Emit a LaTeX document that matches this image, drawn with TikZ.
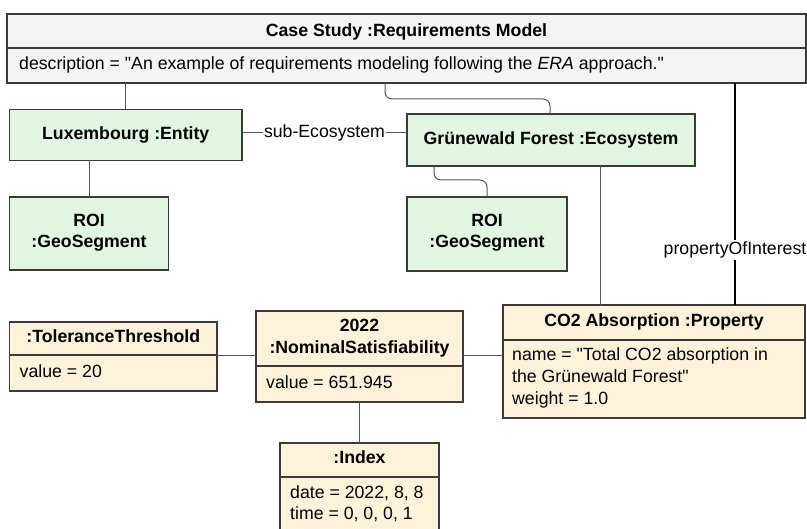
\documentclass[tikz,border=0pt]{standalone}
\usepackage{fontspec}
\setmainfont{Liberation Sans}[Ligatures=TeXOff]
\usetikzlibrary{calc}
\definecolor{boxline}{RGB}{58,58,58}
\definecolor{linkline}{RGB}{85,85,85}
\definecolor{greenfill}{RGB}{225,247,225}
\definecolor{creamfill}{RGB}{255,242,218}
\definecolor{grayfill}{RGB}{244,244,244}
\tikzset{
  base/.style={font=\fontsize{17.7}{22}\selectfont},
  box/.style={draw=boxline, line width=1.4pt, rectangle, inner sep=0pt, outer sep=0pt},
  greenbox/.style={box, fill=greenfill},
  creambox/.style={box, fill=creamfill},
  graybox/.style={box, fill=grayfill},
  title/.style={base, font=\fontsize{17.7}{22}\selectfont\bfseries, anchor=base, inner sep=0pt},
  attr/.style={base, anchor=base west, inner sep=0pt},
  conn/.style={draw=linkline, line width=1pt},
  strong/.style={draw=black, line width=1.3pt},
  lbl/.style={base, fill=white, inner sep=1.5pt, text height=12.7pt, text depth=3.7pt},
}
\begin{document}
\begin{tikzpicture}[x=1pt, y=-1pt]
\useasboundingbox (0,0) rectangle (807,529);

% ---------- Case study object ----------
\node[graybox, minimum width=799pt, minimum height=34pt] (casehead) at (406.5,31) {};
\node[graybox, minimum width=799pt, minimum height=35pt] (casebody) at (406.5,65.5) {};
\node[title] (casetitle) at (406.5,37) {Case Study :Requirements Model};
\node[attr] (casedesc) at (19,70) {description = "An example of requirements modeling following the \textit{ERA} approach."};

% ---------- Entity / ecosystem objects ----------
\node[greenbox, minimum width=232.5pt, minimum height=51pt] (lux) at (125.75,135) {};
\node[title] (luxt) at (125.75,139.3) {Luxembourg :Entity};

\node[greenbox, minimum width=288pt, minimum height=52pt] (grun) at (551,140) {};
\node[title] (grunt) at (551,145) {Grünewald Forest :Ecosystem};

\node[greenbox, minimum width=159pt, minimum height=73pt] (roia) at (89,233.5) {};
\node[title] (roiat1) at (89,226.7) {ROI};
\node[title] (roiat2) at (89,248) {:GeoSegment};

\node[greenbox, minimum width=160pt, minimum height=74pt] (roib) at (487,234) {};
\node[title] (roibt1) at (487,227) {ROI};
\node[title] (roibt2) at (487,248) {:GeoSegment};

% ---------- Property ----------
\node[creambox, minimum width=302pt, minimum height=35pt] (co2head) at (654,322.5) {};
\node[creambox, minimum width=302pt, minimum height=78pt] (co2body) at (654,379) {};
\node[title] (co2t) at (654,326.7) {CO2 Absorption :Property};
\node[attr] (co2a) at (512,361) {name = "Total CO2 absorption in};
\node[attr] (co2b) at (512,383) {the Grünewald Forest"};
\node[attr] (co2c) at (512,405) {weight = 1.0};

% ---------- Tolerance threshold ----------
\node[creambox, minimum width=207.5pt, minimum height=33pt] (tolhead) at (113.25,338.5) {};
\node[creambox, minimum width=207.5pt, minimum height=36pt] (tolbody) at (113.25,373) {};
\node[title] (tolt) at (113.25,342.7) {:ToleranceThreshold};
\node[attr] (tola) at (19.5,377.7) {value = 20};

% ---------- Nominal satisfiability ----------
\node[creambox, minimum width=207pt, minimum height=55pt] (nomhead) at (359.5,338.5) {};
\node[creambox, minimum width=207pt, minimum height=36pt] (nombody) at (359.5,384) {};
\node[title] (nomt1) at (359.5,332) {2022};
\node[title] (nomt2) at (359.5,354) {:NominalSatisfiability};
\node[attr] (noma) at (266,388.3) {value = 651.945};

% ---------- Index ----------
\node[creambox, minimum width=159pt, minimum height=34pt] (idxhead) at (359.5,460) {};
\node[creambox, minimum width=159pt, minimum height=66pt] (idxbody) at (359.5,510) {};
\node[title] (idxt) at (359.5,464) {:Index};
\node[attr] (idxa) at (290,499) {date = 2022, 8, 8};
\node[attr] (idxb) at (290,520) {time = 0, 0, 0, 1};

% ---------- Routing points ----------
\coordinate (bendA) at (385,99);
\coordinate (bendB) at (550,99);
\coordinate (bendC) at (434,180);
\coordinate (subline) at (0,133);
\coordinate (poiX) at (735,0);
\coordinate (ecoX) at (600,0);
\coordinate (attrline) at (0,356);

% ---------- Connectors ----------
\draw[conn] (casebody.south -| lux.north) -- (lux.north);
\draw[conn, rounded corners=7pt] (casebody.south -| bendA) -- (bendA) -- (bendB) -- (grun.north -| bendB);
\draw[conn] (lux.east |- subline) -- node[lbl] (sublbl) {sub-Ecosystem} (grun.west |- subline);
\draw[conn] (lux.south -| roia.north) -- (roia.north);
\draw[conn, rounded corners=7pt] (grun.south -| bendC) -- (bendC) -- (bendC -| roib.north) -- (roib.north);
\draw[conn] (grun.south -| ecoX) -- (co2head.north -| ecoX);
\draw[strong] (casebody.south -| poiX) -- node[lbl, pos=0.752] (poilbl) {propertyOfInterest} (co2head.north -| poiX);
\draw[conn] (tolhead.east |- attrline) -- (nomhead.west |- attrline);
\draw[conn] (nomhead.east |- attrline) -- (co2body.west |- attrline);
\draw[conn] (nombody.south) -- (idxhead.north);
\end{tikzpicture}
\end{document}
